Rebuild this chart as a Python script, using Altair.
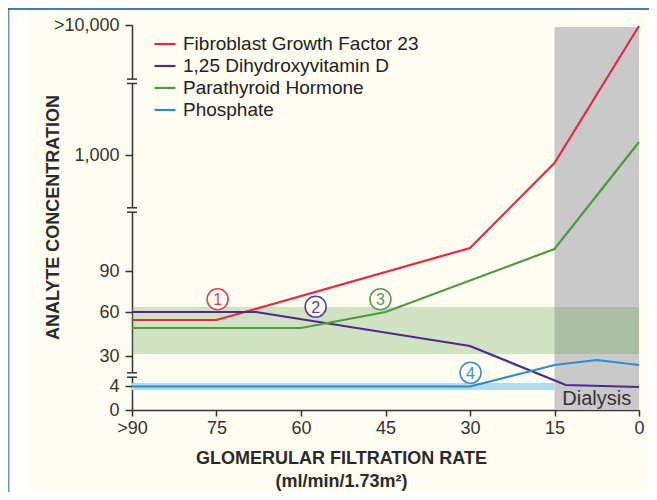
import altair as alt
import pandas as pd

FONT = "Liberation Sans"
BG = "#fffdf2"
INK = "#2a2a2a"

# ---- series (x = GFR, y = position on the broken concentration axis) ----
series_names = ["Fibroblast Growth Factor 23", "1,25 Dihydroxyvitamin D",
                "Parathyroid Hormone", "Phosphate"]
series_colors = ["#e5293f", "#4b2b8f", "#4f9a3f", "#2f8dc8"]

fgf_gfr = [90, 75, 30, 15, 0]
fgf_pos = [90, 90, 162, 247, 384]
vitd_gfr = [90, 68, 30, 13, 0]
vitd_pos = [98, 98, 64, 25, 23]
pth_gfr = [90, 60, 45, 15, 0]
pth_pos = [82, 82, 98, 161, 268]
phos_gfr = [90, 30, 15, 7.5, 0]
phos_pos = [23.5, 23.5, 45, 50, 45]

# ---- axes ----
y_tick_pos = [0, 24, 54, 98, 139, 255, 385]
y_tick_labels = ["0", "4", "30", "60", "90", "1,000", ">10,000"]
x_ticks = [90, 75, 60, 45, 30, 15, 0]
x_tick_labels = [">90", "75", "60", "45", "30", "15", "0"]
axis_breaks = [328.7, 200, 35]

# ---- shaded regions ----
band_names = ["Dialysis", "Phosphate normal range", "PTH normal range"]
band_gfr_start = [15, 90, 90]
band_gfr_end = [0, 15, 0]
band_pos_low = [0, 20, 56]
band_pos_high = [383, 27, 103]
band_colors = ["#c9c9c9", "#b4dbe9", "#64a553"]
band_opacity = [1.0, 1.0, 0.3]

# ---- circled annotations ----
ann_text = ["1", "2", "3", "4"]
ann_gfr = [74.8, 57.4, 45.9, 29.9]
ann_pos = [110.7, 103.3, 110.7, 37.3]
ann_colors = ["#d8455a", "#5a3f9e", "#5c9c55", "#3f8fc4"]

dialysis_gfr = [7.5]
dialysis_pos = [10.7]
dialysis_text = ["Dialysis"]

# ---------------------------------------------------------------------
rows = []
for name, gs, ps in zip(series_names,
                        [fgf_gfr, vitd_gfr, pth_gfr, phos_gfr],
                        [fgf_pos, vitd_pos, pth_pos, phos_pos]):
    for i, (g, p) in enumerate(zip(gs, ps)):
        rows.append({"series": name, "gfr": g, "pos": p, "idx": i})
line_df = pd.DataFrame(rows)

band_df = pd.DataFrame({"name": band_names, "gfr": band_gfr_start, "gfr_end": band_gfr_end,
                        "pos": band_pos_low, "pos_high": band_pos_high,
                        "color": band_colors, "op": band_opacity, "order": range(len(band_names))})

ann_df = pd.DataFrame({"t": ann_text, "gfr": ann_gfr, "pos": ann_pos, "c": ann_colors})
dia_df = pd.DataFrame({"t": dialysis_text, "gfr": dialysis_gfr, "pos": dialysis_pos})

brk_df = pd.DataFrame({"pos": [b - 2.2 for b in axis_breaks],
                       "pos_high": [b + 2.2 for b in axis_breaks]})
brk_line_df = pd.DataFrame({"pos": [b + d for b in axis_breaks for d in (-2.2, 2.2)]})


def ternary(values, labels, default):
    expr = f"'{default}'"
    for v, l in reversed(list(zip(values, labels))):
        expr = f"(datum.value == {v} ? '{l}' : {expr})"
    return expr


xscale = alt.Scale(domain=[0, 90], reverse=True, nice=False, zero=False)
yscale = alt.Scale(domain=[0, 385], nice=False, zero=False)

xaxis = alt.Axis(values=x_ticks, labelExpr=ternary(x_ticks, x_tick_labels, ""),
                 grid=False, tickSize=6, labelPadding=3, labelFontSize=18, labelFont=FONT,
                 labelColor="#333", domainColor="#333", domainWidth=1.5, tickColor="#333",
                 tickWidth=1.5, title=["GLOMERULAR FILTRATION RATE", "(ml/min/1.73m²)"],
                 titleFont=FONT, titleFontSize=18, titleFontWeight="bold", titleColor=INK,
                 titleX=209, titleY=53, titleAlign="center", titleBaseline="alphabetic",
                 titleLineHeight=23, labelFlush=False, labelOverlap=False)
yaxis = alt.Axis(values=y_tick_pos, labelExpr=ternary(y_tick_pos, y_tick_labels, ""),
                 grid=False, tickSize=7, labelPadding=6, labelFontSize=18, labelFont=FONT,
                 labelColor="#333", domainColor="#333", domainWidth=1.5, tickColor="#333",
                 tickWidth=1.5, title="ANALYTE CONCENTRATION", titleFont=FONT,
                 titleFontSize=18, titleFontWeight="bold", titleColor=INK, titleAngle=270,
                 titleX=-79, titleY=192, titleAlign="center", titleBaseline="middle",
                 labelFlush=False, labelOverlap=False)

one = pd.DataFrame({"a": [0]})

# frame decoration (page border of the original figure)
white_strip = alt.Chart(one).mark_rect(color="#ffffff").encode(
    x=alt.value(-123), x2=alt.value(-105), y=alt.value(-17), y2=alt.value(467))
left_line = alt.Chart(one).mark_rule(color="#6f8fcf", strokeWidth=1.5).encode(
    x=alt.value(-123.3), y=alt.value(-17), y2=alt.value(467))
top_line = alt.Chart(one).mark_rule(color="#1d4d8a", strokeWidth=1.5).encode(
    y=alt.value(-16), x=alt.value(-124), x2=alt.value(517))

bands = alt.Chart(band_df).mark_rect().encode(
    x=alt.X("gfr:Q", scale=xscale, axis=xaxis), x2="gfr_end:Q",
    y=alt.Y("pos:Q", scale=yscale, axis=yaxis), y2="pos_high:Q",
    fill=alt.Fill("color:N", scale=None),
    opacity=alt.Opacity("op:Q", scale=None),
    order="order:Q")

lines = alt.Chart(line_df).mark_line(strokeWidth=2.2).encode(
    x=alt.X("gfr:Q", scale=xscale, axis=xaxis),
    y=alt.Y("pos:Q", scale=yscale, axis=yaxis),
    color=alt.Color("series:N",
                    scale=alt.Scale(domain=series_names, range=series_colors),
                    legend=alt.Legend(orient="none", legendX=21, legendY=7, title=None,
                                      symbolType="stroke", symbolSize=441,
                                      symbolStrokeWidth=2.2, labelFont=FONT,
                                      labelFontSize=19, labelColor="#222", labelOffset=6,
                                      rowPadding=0, padding=0, labelLimit=400)),
    order="idx:Q")

brk_gap = alt.Chart(brk_df).mark_rect(color=BG).encode(
    x=alt.value(-4), x2=alt.value(4),
    y=alt.Y("pos:Q", scale=yscale, axis=yaxis), y2="pos_high:Q")
brk_lines = alt.Chart(brk_line_df).mark_rule(color="#333", strokeWidth=1.5).encode(
    x=alt.value(-5), x2=alt.value(5),
    y=alt.Y("pos:Q", scale=yscale, axis=yaxis))

ann_circles = alt.Chart(ann_df).mark_point(shape="circle", size=441, strokeWidth=1.6,
                                           filled=True, fill=BG, opacity=1).encode(
    x=alt.X("gfr:Q", scale=xscale, axis=xaxis),
    y=alt.Y("pos:Q", scale=yscale, axis=yaxis),
    stroke=alt.Stroke("c:N", scale=None))
ann_digits = alt.Chart(ann_df).mark_text(font=FONT, fontSize=16, align="center",
                                         baseline="middle", dy=1).encode(
    x=alt.X("gfr:Q", scale=xscale, axis=xaxis),
    y=alt.Y("pos:Q", scale=yscale, axis=yaxis),
    text="t:N",
    color=alt.Color("c:N", scale=None))

dialysis = alt.Chart(dia_df).mark_text(font=FONT, fontSize=20, align="center",
                                       baseline="middle", color="#333").encode(
    x=alt.X("gfr:Q", scale=xscale, axis=xaxis),
    y=alt.Y("pos:Q", scale=yscale, axis=yaxis),
    text="t:N")

chart = alt.layer(white_strip, left_line, top_line, bands, lines, brk_gap, brk_lines,
                  ann_circles, ann_digits, dialysis).resolve_scale(
    color="independent", stroke="independent", fill="independent", opacity="independent"
).properties(
    width=507, height=385,
    padding={"left": 124, "top": 17, "right": 10, "bottom": 82},
    autosize=alt.AutoSizeParams(type="none"),
    background=BG,
).configure_view(stroke=None)

chart.save("out.html", embed_options={"renderer": "svg", "actions": False})
